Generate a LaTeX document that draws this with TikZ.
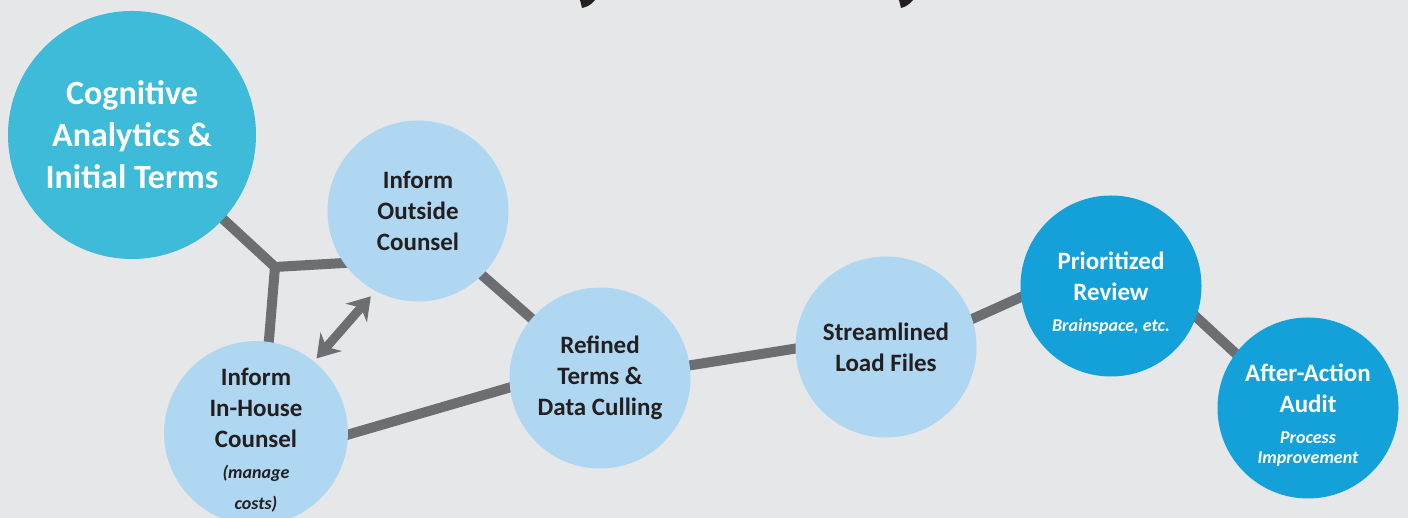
\documentclass[tikz,border=0pt]{standalone}
\usepackage{fontspec}
\setmainfont{Carlito}
\usetikzlibrary{arrows.meta}
\pgfdeclarelayer{background}
\pgfsetlayers{background,main}
\definecolor{bgcol}{HTML}{E6E7E8}
\definecolor{cogblue}{HTML}{3DBBD9}
\definecolor{lightblue}{HTML}{AFD7F1}
\definecolor{deepblue}{HTML}{14A1D9}
\definecolor{linegray}{HTML}{6D6E71}
\definecolor{darktext}{HTML}{231F20}
\newcommand{\stagenote}[1]{{\bfseries\itshape\fontsize{18}{20}\selectfont #1}}

\begin{document}
\begin{tikzpicture}[x=1pt, y=1pt]
        \tikzstyle{stage}=[circle, minimum size=181pt, inner sep=0pt, align=center, font=\bfseries\fontsize{25}{31}\selectfont]
        \tikzstyle{lightstage}=[stage, fill=lightblue, text=darktext]
        \tikzstyle{darkstage}=[stage, fill=deepblue, text=white]
        \tikzstyle{link}=[line width=10pt, draw=linegray, shorten <=-6pt, shorten >=-6pt]
        \tikzstyle{dblarrow}=[line width=9pt, draw=linegray, {Stealth[length=22pt, width=28pt, inset=7pt]}-{Stealth[length=22pt, width=28pt, inset=7pt]}]

        \useasboundingbox (0,0) rectangle (1408,518);

        % 圆形节点
        \node[stage, minimum size=248pt, fill=cogblue, text=white, font=\bfseries\fontsize{34}{42}\selectfont] (cog) at (132,383) {Cognitive\\Analytics \&\\Initial Terms};
        \node[lightstage] (out) at (418,307) {Inform\\Outside\\Counsel};
        \node[lightstage] (inh) at (256,85) {\rule{0pt}{32pt}Inform\\In-House\\Counsel\\\stagenote{(manage}\\\stagenote{costs)}};
        \node[lightstage] (ref) at (600,140) {Refined\\Terms \&\\Data Culling};
        \node[lightstage] (str) at (886,171) {Streamlined\\Load Files};
        \node[darkstage] (pri) at (1111,232) {\rule{0pt}{31pt}Prioritized\\Review\\\stagenote{Brainspace, etc.}};
        \node[darkstage] (aft) at (1308,110) {\rule{0pt}{32pt}After-Action\\Audit\\\stagenote{Process}\\[-11pt]\stagenote{Improvement}};

        % 连线 (放在背景层)
        \begin{pgfonlayer}{background}
            \fill[bgcol] (0,0) rectangle (1408,518);
            \coordinate (J) at (275,251);
            \draw[link, shorten <=0pt] (cog.center) -- (J) -- (out.215);
            \draw[link, shorten >=-3pt] (inh.82) -- (J);
            \draw[link] (out.-45) -- (ref.139);
            \draw[link] (inh.-1) -- (ref.186);
            \draw[link] (ref.8) -- (str.181);
            \draw[link] (str.18) -- (pri.187);
            \draw[link] (pri.-20) -- (aft.143);
        \end{pgfonlayer}

        % 双向箭头
        \draw[dblarrow, shorten <=4pt, shorten >=7pt] (inh.51) -- (out.242);

        % 顶部残缺字形
        \fill[darktext] (580,518) -- (595,518) .. controls (591,513) and (587,511) .. (582,510) -- cycle;
        \fill[darktext] (899,518) -- (913,518) .. controls (909,513) and (905,511) .. (901,510) -- cycle;
\end{tikzpicture}
\end{document}
